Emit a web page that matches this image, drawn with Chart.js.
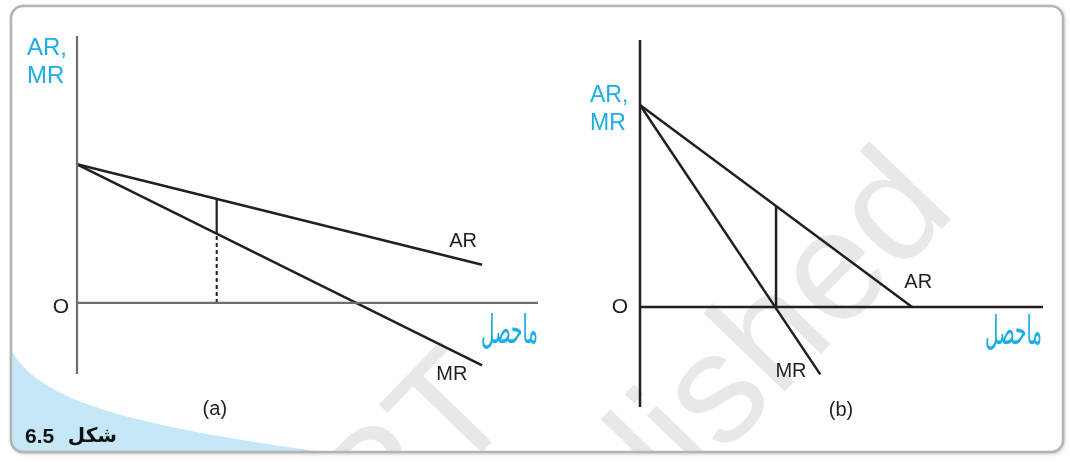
<!DOCTYPE html>
<html><head><meta charset="utf-8">
<script src="https://cdn.jsdelivr.net/npm/chart.js@4.4.1/dist/chart.umd.min.js"></script>
<style>
html,body{margin:0;padding:0;background:#fff;}
#wrap{position:relative;width:1070px;height:462px;}
canvas{position:absolute;left:0;top:0;}
</style>
</head><body>
<div id="wrap"><canvas id="ca" width="1070" height="462"></canvas><canvas id="cb" width="1070" height="462"></canvas></div>
<script>
// ---------- Panel (a): output (Q) and revenue values ----------
const qA = [0, 8.7];
const arA = [4, 1.1];
const mrA = [4, -1.8];
const qStarA = 3;
const arAtQStarA = 3;
const mrAtQStarA = 2;
// ---------- Panel (b) ----------
const qArB = [0, 8];
const arB = [6, 0];
const qMrB = [0, 5.3];
const mrB = [6, -2];
const qStarB = 4;
const arAtQStarB = 3;
const mrAtQStarB = 0;
// ---------- axis extents (data space) ----------
const xRangeA = [0, 9.9];
const yRangeA = [-2.05, 7.7];
const xRangeB = [0, 11.85];
const yRangeB = [-2.97, 7.93];
// ---------- texts ----------
const yAxisTitle = ['AR,', 'MR'];
const xAxisTitle = 'ماحصل';
const curveNames = ['AR', 'MR'];
const originLabel = 'O';
const panelLabels = ['(a)', '(b)'];
const figureLabel = ['شکل', '6.5'];

const CYAN = '#1badE6';
const INK = '#231f20';
const SANS = '"Liberation Sans", Arial, "DejaVu Sans", sans-serif';

const zip = (xs, ys) => xs.map((x, i) => ({x, y: ys[i]}));
const seg = (color, width, data, dash) => ({
  data, borderColor: color, borderWidth: width, pointRadius: 0, tension: 0,
  fill: false, clip: false, borderDash: dash || [], borderCapStyle: 'butt'
});

function labelPlugin(id, labels) {
  return {
    id,
    afterDatasetsDraw(chart) {
      const {ctx, scales: {x, y}} = chart;
      labels.forEach(l => {
        ctx.save();
        ctx.font = l.font;
        ctx.fillStyle = l.color;
        ctx.textAlign = l.align || 'center';
        ctx.textBaseline = l.base || 'middle';
        ctx.direction = l.dir || 'ltr';
        ctx.translate(x.getPixelForValue(l.x), y.getPixelForValue(l.y));
        if (l.sx) ctx.scale(l.sx, l.sy);
        ctx.fillText(l.text, 0, 0);
        ctx.restore();
      });
    }
  };
}

function boxPath(ctx) {
  ctx.beginPath();
  ctx.roundRect(11, 6, 1052, 446, 12);
}

const backgroundPlugin = {
  id: 'pageBackground',
  beforeDraw(chart) {
    const ctx = chart.ctx;
    ctx.save();
    ctx.fillStyle = '#ffffff';
    ctx.fillRect(0, 0, chart.width, chart.height);
    ctx.shadowColor = 'rgba(0,0,0,0.35)';
    ctx.shadowBlur = 4;
    ctx.shadowOffsetX = 1;
    ctx.shadowOffsetY = 1;
    boxPath(ctx);
    ctx.fillStyle = '#ffffff';
    ctx.fill();
    ctx.restore();

    ctx.save();
    boxPath(ctx);
    ctx.clip();
    // light blue corner shape
    ctx.beginPath();
    ctx.moveTo(11, 350);
    ctx.bezierCurveTo(40, 400, 120, 425, 345, 455);
    ctx.lineTo(11, 455);
    ctx.closePath();
    ctx.fillStyle = '#c6e7f7';
    ctx.fill();
    // watermark
    ctx.fillStyle = '#e8e8e8';
    ctx.font = '156px ' + SANS;
    ctx.textAlign = 'right';
    ctx.textBaseline = 'alphabetic';
    const rot = -46 * Math.PI / 180;
    ctx.save();
    ctx.translate(520, 413); ctx.rotate(rot);
    ctx.fillText('© NCERT', 0, 0);
    ctx.restore();
    ctx.save();
    ctx.translate(958, 212); ctx.rotate(rot);
    ctx.fillText('not to be republished', 0, 0);
    ctx.restore();
    // figure label
    ctx.fillStyle = '#111';
    ctx.textBaseline = 'alphabetic';
    ctx.font = 'bold 21px ' + SANS;
    ctx.textAlign = 'left';
    ctx.fillText(figureLabel[1], 25, 443);
    ctx.font = 'bold 20px "DejaVu Sans"';
    ctx.direction = 'rtl';
    ctx.textAlign = 'right';
    ctx.fillText(figureLabel[0], 117, 442);
    ctx.restore();

    // border
    ctx.save();
    boxPath(ctx);
    ctx.lineWidth = 2.5;
    ctx.strokeStyle = '#b4b4b4';
    ctx.stroke();
    ctx.restore();
  }
};

function baseOptions(pad, xr, yr) {
  return {
    responsive: false,
    animation: false,
    events: [],
    layout: {padding: pad},
    plugins: {legend: {display: false}, tooltip: {enabled: false}, title: {display: false}},
    scales: {
      x: {type: 'linear', min: xr[0], max: xr[1], display: false},
      y: {type: 'linear', min: yr[0], max: yr[1], display: false}
    }
  };
}

const URDU_FONT = '28px "DejaVu Sans"';

// ---------- Chart (a) ----------
const GREY = '#6d6e71';
new Chart(document.getElementById('ca'), {
  type: 'line',
  data: {datasets: [
    seg(GREY, 2.2, zip([0, 0], yRangeA)),
    seg(GREY, 2.2, zip(xRangeA, [0, 0])),
    seg(INK, 2.5, zip(qA, arA)),
    seg(INK, 2.5, zip(qA, mrA)),
    seg(INK, 2.2, zip([qStarA, qStarA], [mrAtQStarA, arAtQStarA])),
    seg(INK, 2, zip([qStarA, qStarA], [0, mrAtQStarA]), [4, 3])
  ]},
  options: baseOptions({left: 77, top: 36, right: 532, bottom: 88}, xRangeA, yRangeA),
  plugins: [backgroundPlugin, labelPlugin('labelsA', [
    {text: yAxisTitle[0], x: -1.074, y: 7.153, color: CYAN, font: '24px ' + SANS, align: 'left', base: 'alphabetic'},
    {text: yAxisTitle[1], x: -1.074, y: 6.346, color: CYAN, font: '24px ' + SANS, align: 'left', base: 'alphabetic'},
    {text: originLabel, x: -0.344, y: -0.115, color: INK, font: '21px ' + SANS},
    {text: curveNames[0], x: 8.29, y: 1.76, color: INK, font: '20px ' + SANS},
    {text: curveNames[1], x: 8.05, y: -2.05, color: INK, font: '20px ' + SANS},
    {text: panelLabels[0], x: 2.96, y: -3.06, color: INK, font: '20px ' + SANS},
    {text: xAxisTitle, x: 9.9, y: -0.85, color: CYAN, font: URDU_FONT, align: 'right', dir: 'rtl', sx: 0.66, sy: 1.4}
  ])]
});

// ---------- Chart (b) ----------
new Chart(document.getElementById('cb'), {
  type: 'line',
  data: {datasets: [
    seg(INK, 2.5, zip([0, 0], yRangeB)),
    seg(INK, 2.5, zip(xRangeB, [0, 0])),
    seg(INK, 2.5, zip(qArB, arB)),
    seg(INK, 2.5, zip(qMrB, mrB)),
    seg(INK, 2.5, zip([qStarB, qStarB], [mrAtQStarB, arAtQStarB]))
  ]},
  options: baseOptions({left: 640, top: 40, right: 27, bottom: 55}, xRangeB, yRangeB),
  plugins: [labelPlugin('labelsB', [
    {text: yAxisTitle[0], x: -1.47, y: 6.09, color: CYAN, font: '23px ' + SANS, align: 'left', base: 'alphabetic'},
    {text: yAxisTitle[1], x: -1.47, y: 5.26, color: CYAN, font: '23px ' + SANS, align: 'left', base: 'alphabetic'},
    {text: originLabel, x: -0.59, y: 0, color: INK, font: '21px ' + SANS},
    {text: curveNames[0], x: 8.18, y: 0.74, color: INK, font: '20px ' + SANS},
    {text: curveNames[1], x: 4.44, y: -1.93, color: INK, font: '20px ' + SANS},
    {text: panelLabels[1], x: 5.91, y: -3.06, color: INK, font: '20px ' + SANS},
    {text: xAxisTitle, x: 11.82, y: -0.8, color: CYAN, font: URDU_FONT, align: 'right', dir: 'rtl', sx: 0.66, sy: 1.4}
  ])]
});
</script>
</body></html>
